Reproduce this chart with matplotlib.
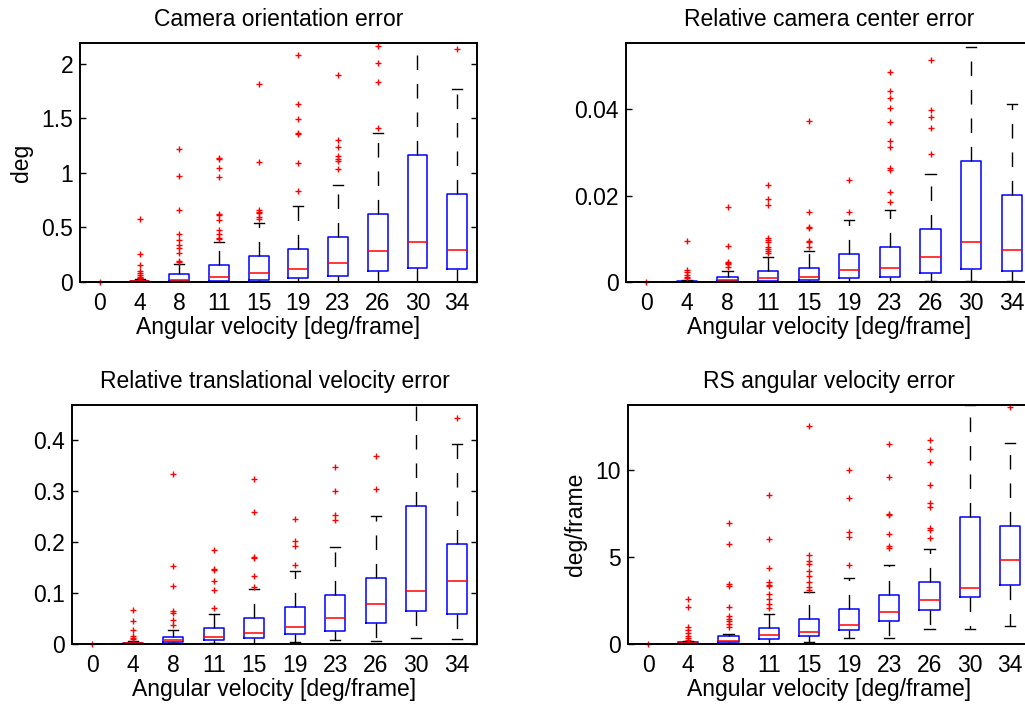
import matplotlib
matplotlib.use('Agg')
import matplotlib.pyplot as plt

plt.rcParams['font.family'] = ['Liberation Sans', 'DejaVu Sans']

labels = ['0', '4', '8', '11', '15', '19', '23', '26', '30', '34']
xlabel = 'Angular velocity [deg/frame]'

# camera orientation error [deg]
ori_q1 = [0, 0.0, 0.005, 0.01, 0.02, 0.033, 0.055, 0.10, 0.125, 0.119]
ori_med = [0, 0.005, 0.021, 0.043, 0.082, 0.116, 0.177, 0.284, 0.363, 0.29]
ori_q3 = [0, 0.01, 0.073, 0.153, 0.238, 0.299, 0.415, 0.623, 1.163, 0.809]
ori_lo = [0, 0, 0, 0, 0, 0, 0, 0, 0.003, 0]
ori_hi = [0, 0.027, 0.168, 0.363, 0.540, 0.693, 0.891, 1.364, 2.30, 1.77]
ori_out = [[0], [0.58, 0.256, 0.156, 0.10, 0.08, 0.06, 0.05, 0.04, 0.035],
           [1.218, 0.974, 0.656, 0.44, 0.388, 0.342, 0.311, 0.266, 0.19, 0.18],
           [1.139, 1.13, 1.041, 0.965, 0.626, 0.61, 0.571, 0.479, 0.44, 0.403, 0.39],
           [1.816, 1.099, 0.662, 0.645, 0.632, 0.60, 0.58],
           [2.079, 1.63, 1.496, 1.367, 1.36, 1.087, 0.83],
           [1.896, 1.297, 1.236, 1.15, 1.13, 1.111, 1.032],
           [2.167, 2.009, 1.835, 1.413],
           [],
           [2.134]]

# relative camera center error
cen_q1 = [0, 0.0, 0.0002, 0.0003, 0.0005, 0.00085, 0.00116, 0.002, 0.00293, 0.00255]
cen_med = [0, 0.0001, 0.0005, 0.00093, 0.00108, 0.0027, 0.00317, 0.0057, 0.00927, 0.0075]
cen_q3 = [0, 0.0003, 0.00116, 0.00255, 0.00324, 0.00656, 0.008, 0.01236, 0.02795, 0.02008]
cen_lo = [0, 0, 0, 0, 0, 0.0001, 0.0001, 0.0002, 0.0002, 0.0003]
cen_hi = [0, 0.0005, 0.00247, 0.0057, 0.0072, 0.01444, 0.0166, 0.02494, 0.05436, 0.04116]
cen_out = [[0], [0.00958, 0.0027, 0.0022, 0.0016, 0.0012, 0.0009],
           [0.0173, 0.00826, 0.0047, 0.0045, 0.0042, 0.0034],
           [0.02247, 0.0193, 0.01776, 0.0102, 0.0098, 0.0093, 0.0082, 0.0076, 0.0072, 0.0067],
           [0.0372, 0.0163, 0.01266, 0.0124, 0.0095, 0.0093, 0.0081],
           [0.02363, 0.0162],
           [0.0487, 0.0443, 0.04247, 0.04015, 0.037, 0.03266, 0.03135, 0.0264, 0.0258, 0.02093, 0.0186],
           [0.05127, 0.0397, 0.03815, 0.03552, 0.02973],
           [],
           []]

# relative translational velocity error
vel_q1 = [0, 0.0, 0.0039, 0.0072, 0.0124, 0.0196, 0.0262, 0.0419, 0.0642, 0.0596]
vel_med = [0, 0.001, 0.0079, 0.0131, 0.0223, 0.034, 0.0504, 0.0779, 0.1041, 0.1237]
vel_q3 = [0, 0.0026, 0.0144, 0.0321, 0.0517, 0.0727, 0.0969, 0.1303, 0.2717, 0.1957]
vel_lo = [0, 0, 0.001, 0.001, 0.0007, 0.003, 0.0072, 0.0065, 0.0124, 0.0105]
vel_hi = [0, 0.006, 0.0281, 0.0589, 0.1074, 0.1434, 0.1899, 0.252, 0.50, 0.3921]
vel_out = [[0], [0.0661, 0.0452, 0.0268, 0.016, 0.0124, 0.009],
           [0.3332, 0.1525, 0.1133, 0.0655, 0.06, 0.0478, 0.0367],
           [0.1853, 0.147, 0.145, 0.1231, 0.1067, 0.07],
           [0.3234, 0.2586, 0.1702, 0.168, 0.1336, 0.112],
           [0.2455, 0.2016, 0.1918, 0.1558],
           [0.3483, 0.2998, 0.2527, 0.2435],
           [0.3686, 0.3044],
           [],
           [0.4432]]

# RS angular velocity error [deg/frame]
rs_q1 = [0, 0.01, 0.10, 0.27, 0.44, 0.79, 1.32, 1.98, 2.73, 3.38]
rs_med = [0, 0.04, 0.19, 0.50, 0.67, 1.11, 1.86, 2.55, 3.24, 4.82]
rs_q3 = [0, 0.096, 0.48, 0.92, 1.46, 2.03, 2.84, 3.57, 7.31, 6.81]
rs_lo = [0, 0, 0.01, 0.02, 0.10, 0.36, 0.33, 0.86, 0.84, 1.02]
rs_hi = [0, 0.17, 0.595, 1.75, 3.01, 3.82, 4.55, 5.45, 13.74, 11.59]
rs_out = [[0], [2.57, 2.15, 0.96, 0.8, 0.63, 0.44, 0.35, 0.25],
          [6.97, 5.76, 3.45, 3.32, 2.15, 1.59, 1.46, 1.3, 1.17, 0.96],
          [8.56, 6.07, 4.36, 3.57, 3.4, 3.32, 2.86, 2.61, 2.28, 2.09],
          [12.57, 5.12, 4.76, 4.59, 4.18, 3.92, 3.57, 3.26, 3.1],
          [10.0, 8.41, 6.45, 6.16, 4.57],
          [11.5, 9.6, 7.47, 7.4, 6.33, 5.64, 5.55],
          [11.73, 11.21, 10.5, 9.14, 8.12, 7.89, 6.68, 6.55, 6.08],
          [],
          [13.65]]

FS = 16.5


def draw(ax, q1, med, q3, lo, hi, out, title, ylabel, ylim, yticks, right=True):
    stats = []
    for i in range(len(labels)):
        stats.append(dict(q1=q1[i], med=med[i], q3=q3[i], whislo=lo[i],
                          whishi=hi[i], fliers=out[i], label=labels[i]))
    parts = ax.bxp(stats, positions=range(1, 11), widths=0.5,
                   boxprops=dict(color='blue', linewidth=1.1),
                   medianprops=dict(color='red', linewidth=1.1),
                   whiskerprops=dict(color='black', linewidth=1, dashes=(10.5, 10)),
                   capprops=dict(color='black', linewidth=1),
                   flierprops=dict(marker='+', markeredgecolor='red', markersize=4.5,
                                   markeredgewidth=1, linestyle='none'),
                   capwidths=0.25)
    # zero-level marks sit on the axis line, keep them visible
    for f in parts['fliers']:
        f.set_clip_on(False)
    parts['medians'][0].set_clip_on(False)
    ax.set_xlim(0.5, 10.5)
    ax.set_ylim(ylim)
    ax.set_yticks(yticks)
    ax.set_yticklabels([('%g' % v) for v in yticks])
    ax.tick_params(axis='x', length=0, labelsize=FS, pad=7)
    ax.tick_params(axis='y', direction='in', right=right, length=4,
                   labelsize=FS, width=1, pad=5)
    for s in ax.spines.values():
        s.set_linewidth(1.4)
    ax.set_title(title, fontsize=FS, pad=12)
    ax.set_xlabel(xlabel, fontsize=FS, labelpad=1)
    if ylabel:
        ax.set_ylabel(ylabel, fontsize=FS, labelpad=6)


W, H = 1025, 704
fig = plt.figure(figsize=(W / 100, H / 100), dpi=100)

ax1 = fig.add_axes([80 / W, (H - 282) / H, 397 / W, 239 / H])
draw(ax1, ori_q1, ori_med, ori_q3, ori_lo, ori_hi, ori_out,
     'Camera orientation error', 'deg', (0, 2.19), [0, 0.5, 1, 1.5, 2])

ax2 = fig.add_axes([626 / W, (H - 282) / H, 406 / W, 239 / H])
draw(ax2, cen_q1, cen_med, cen_q3, cen_lo, cen_hi, cen_out,
     'Relative camera center error', None, (0, 0.0553), [0, 0.02, 0.04],
     right=False)

ax3 = fig.add_axes([72 / W, (H - 644) / H, 405 / W, 239 / H])
draw(ax3, vel_q1, vel_med, vel_q3, vel_lo, vel_hi, vel_out,
     'Relative translational velocity error', None, (0, 0.4695),
     [0, 0.1, 0.2, 0.3, 0.4])

ax4 = fig.add_axes([628 / W, (H - 644) / H, 402 / W, 239 / H])
draw(ax4, rs_q1, rs_med, rs_q3, rs_lo, rs_hi, rs_out,
     'RS angular velocity error', 'deg/frame', (0, 13.76), [0, 5, 10],
     right=False)

fig.savefig('out.png', dpi=100)
